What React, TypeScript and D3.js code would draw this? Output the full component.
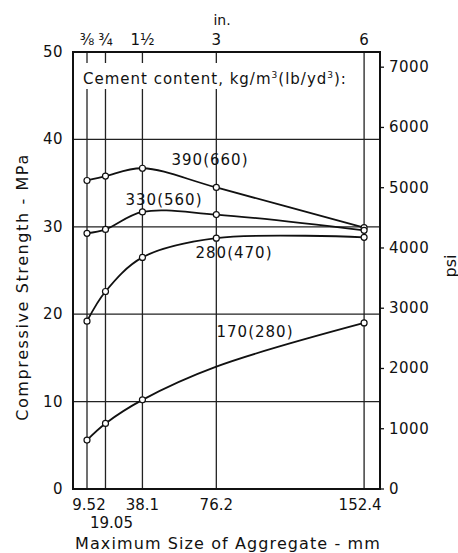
import React from "react";
import * as d3 from "d3";

const sizesMm = [9.52, 19.05, 38.1, 76.2, 152.4];
const sizeLabelsMm = ["9.52", "19.05", "38.1", "76.2", "152.4"];
const sizeLabelsIn = ["⅜", "¾", "1½", "3", "6"];
const mpaTicks = [0, 10, 20, 30, 40, 50];
const psiTicks = [0, 1000, 2000, 3000, 4000, 5000, 6000, 7000];
const gridMpa = [10, 20, 30, 40];

const seriesNames = ["390(660)", "330(560)", "280(470)", "170(280)"];
const s390 = [35.3, 35.8, 36.7, 34.5, 29.9];
const s330 = [29.25, 29.7, 31.7, 31.4, 29.6];
const s280 = [19.2, 22.6, 26.5, 28.7, 28.8];
const s170 = [5.6, 7.5, 10.2, 14.0, 19.0];
const markers170 = [true, true, true, false, true];

const W = 458, H = 553;
const L = 73, R = 380, T = 52, B = 489;
const font = "DejaVu Sans, sans-serif";

export default function App() {
  const x = d3.scaleLinear().domain([2.3, 160.6]).range([L, R]);
  const y = d3.scaleLinear().domain([0, 50]).range([B, T]);
  const yPsi = d3.scaleLinear().domain([0, 50 * 145.04]).range([B, T]);
  const line = d3
    .line<number>()
    .x((_, i) => x(sizesMm[i]))
    .y((d) => y(d))
    .curve(d3.curveCatmullRom.alpha(0.5));

  const all = [
    { v: s390, m: [true, true, true, true, true], label: seriesNames[0], lx: 210, ly: 160 },
    { v: s330, m: [true, true, true, true, true], label: seriesNames[1], lx: 164, ly: 200 },
    { v: s280, m: [true, true, true, true, true], label: seriesNames[2], lx: 234, ly: 253 },
    { v: s170, m: markers170, label: seriesNames[3], lx: 255, ly: 332 },
  ];

  return (
    <svg width={W} height={H} style={{ position: "absolute", left: 0, top: 0, background: "#fff" }} fontFamily={font}>
      <rect x={0} y={0} width={W} height={H} fill="#fff" />
      {gridMpa.map((g) => (
        <line key={g} x1={L} x2={R} y1={y(g)} y2={y(g)} stroke="#222" strokeWidth={1.3} />
      ))}
      {sizesMm.map((s) => (
        <line key={s} x1={x(s)} x2={x(s)} y1={T} y2={B} stroke="#222" strokeWidth={1.3} />
      ))}
      <rect x={80} y={63} width={272} height={26} fill="#fff" />
      <text x={83} y={84} fontSize={15} letterSpacing={1} fill="#111">
        Cement content, kg/m<tspan dy={-6} fontSize={9}>3</tspan>
        <tspan dy={6}>(lb/yd</tspan>
        <tspan dy={-6} fontSize={9}>3</tspan>
        <tspan dy={6}>):</tspan>
      </text>
      <rect x={L} y={T} width={R - L} height={B - T} fill="none" stroke="#111" strokeWidth={2} />
      {all.map((s, k) => (
        <g key={k}>
          <path d={line(s.v) || ""} fill="none" stroke="#111" strokeWidth={1.8} />
          {s.v.map((v, i) =>
            s.m[i] ? <circle key={i} cx={x(sizesMm[i])} cy={y(v)} r={3} fill="#fff" stroke="#111" strokeWidth={1.2} /> : null
          )}
          <text x={s.lx} y={s.ly} fontSize={15} letterSpacing={1} textAnchor="middle" dominantBaseline="central" fill="#111">
            {s.label}
          </text>
        </g>
      ))}
      {mpaTicks.map((t) => (
        <text key={t} x={63} y={y(t)} fontSize={15} letterSpacing={0.5} textAnchor="end" dominantBaseline="central" fill="#111">
          {t}
        </text>
      ))}
      {psiTicks.map((t) => (
        <g key={t}>
          <line x1={R} x2={R + 4} y1={yPsi(t)} y2={yPsi(t)} stroke="#111" strokeWidth={1.3} />
          <text x={389} y={yPsi(t)} fontSize={15} letterSpacing={0.5} dominantBaseline="central" fill="#111">
            {t}
          </text>
        </g>
      ))}
      {sizesMm.map((s, i) => (
        <text key={s} x={x(s)} y={40} fontSize={15} textAnchor="middle" dominantBaseline="central" fill="#111">
          {sizeLabelsIn[i]}
        </text>
      ))}
      <text x={222} y={20} fontSize={14} textAnchor="middle" dominantBaseline="central" fill="#111">in.</text>
      {sizesMm.map((s, i) => (
        <text
          key={s}
          x={i === 0 ? x(s) + 2 : i === 1 ? x(s) + 6 : i === 4 ? x(s) - 4 : x(s)}
          y={i === 1 ? 523 : 505}
          fontSize={15}
          textAnchor="middle"
          dominantBaseline="central"
          fill="#111"
        >
          {sizeLabelsMm[i]}
        </text>
      ))}
      <text x={228} y={543} fontSize={16} letterSpacing={1.1} textAnchor="middle" dominantBaseline="central" fill="#111">
        Maximum Size of Aggregate - mm
      </text>
      <text
        transform={`translate(22,287) rotate(-90)`}
        fontSize={16}
        letterSpacing={1.6}
        textAnchor="middle"
        dominantBaseline="central"
        fill="#111"
      >
        Compressive Strength - MPa
      </text>
      <text transform={`translate(450,266) rotate(-90)`} fontSize={16} textAnchor="middle" dominantBaseline="central" fill="#111">
        psi
      </text>
    </svg>
  );
}
